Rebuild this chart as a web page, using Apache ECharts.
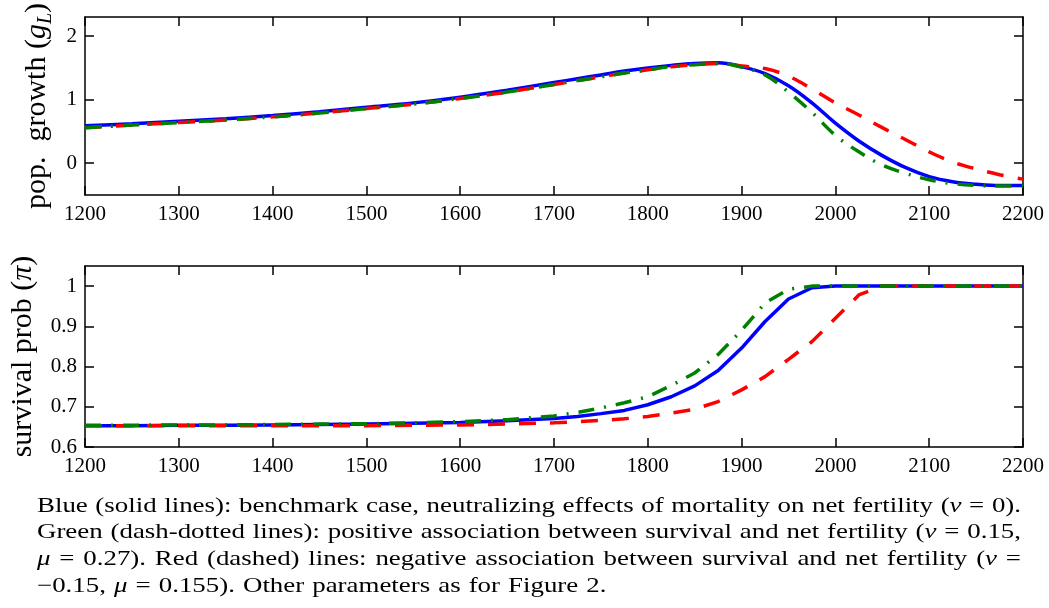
<!DOCTYPE html>
<html>
<head>
<meta charset="utf-8">
<script src="https://cdn.jsdelivr.net/npm/echarts@6/dist/echarts.min.js"></script>
<style>
  html, body { margin: 0; padding: 0; background: #fff; }
  #chart { width: 1049px; height: 608px; }
</style>
</head>
<body>
<div id="chart"></div>
<script>
// years sampled along both panels
const years = [1200, 1250, 1300, 1350, 1400, 1450, 1500, 1550, 1600, 1650, 1700, 1725, 1750, 1775,
  1800, 1825, 1850, 1875, 1900, 1925, 1950, 1975, 2000, 2025, 2050, 2075, 2100, 2125, 2150, 2175, 2200];

// population growth (g_L)
const growthBlue = [0.59, 0.62, 0.66, 0.70, 0.75, 0.81, 0.88, 0.95, 1.04, 1.15, 1.27, 1.33, 1.39, 1.45,
  1.50, 1.54, 1.57, 1.58, 1.52, 1.41, 1.22, 0.95, 0.63, 0.35, 0.12, -0.07, -0.21, -0.29, -0.33, -0.35, -0.35];
const growthGreen = [0.56, 0.60, 0.64, 0.68, 0.73, 0.79, 0.86, 0.93, 1.02, 1.12, 1.24, 1.30, 1.36, 1.42,
  1.47, 1.52, 1.55, 1.57, 1.51, 1.39, 1.12, 0.80, 0.44, 0.18, -0.03, -0.16, -0.26, -0.32, -0.35, -0.36, -0.36];
const growthRed = [0.56, 0.60, 0.64, 0.68, 0.73, 0.79, 0.86, 0.93, 1.02, 1.12, 1.24, 1.30, 1.36, 1.42,
  1.47, 1.52, 1.55, 1.57, 1.53, 1.49, 1.37, 1.17, 0.95, 0.76, 0.56, 0.37, 0.18, 0.02, -0.09, -0.18, -0.25];

// survival probability (pi)
const survBlue = [0.653, 0.653, 0.654, 0.654, 0.655, 0.656, 0.657, 0.659, 0.661, 0.665, 0.671, 0.676, 0.683, 0.691,
  0.705, 0.725, 0.752, 0.790, 0.846, 0.912, 0.968, 0.996, 1, 1, 1, 1, 1, 1, 1, 1, 1];
const survGreen = [0.654, 0.654, 0.655, 0.655, 0.656, 0.657, 0.658, 0.660, 0.663, 0.668, 0.677, 0.686, 0.697, 0.710,
  0.725, 0.753, 0.784, 0.830, 0.890, 0.958, 0.992, 1, 1, 1, 1, 1, 1, 1, 1, 1, 1];
const survRed = [0.653, 0.653, 0.653, 0.653, 0.653, 0.653, 0.653, 0.654, 0.655, 0.657, 0.660, 0.663, 0.666, 0.670,
  0.676, 0.684, 0.694, 0.713, 0.742, 0.775, 0.818, 0.862, 0.920, 0.978, 1, 1, 1, 1, 1, 1, 1];

const growthTicks = [0, 1, 2];
const survTicks = [0.6, 0.7, 0.8, 0.9, 1];

const captionLines = [
  'Blue (solid lines): benchmark case, neutralizing effects of mortality on net fertility (ν = 0).',
  'Green (dash-dotted lines): positive association between survival and net fertility (ν = 0.15,',
  'μ = 0.27). Red (dashed) lines: negative association between survival and net fertility (ν =',
  '−0.15, μ = 0.155). Other parameters as for Figure 2.'
];

const serif = '"Liberation Serif", "Times New Roman", serif';
const black = { color: '#000', width: 1.5 };

function xAxisFor(gridIndex, position, withLabels) {
  return {
    type: 'value',
    gridIndex,
    position,
    min: 1200,
    max: 2200,
    interval: 100,
    axisLine: { show: true, onZero: false, lineStyle: black },
    axisTick: { show: true, inside: true, length: 9, lineStyle: black },
    axisLabel: {
      show: withLabels,
      fontFamily: serif,
      fontSize: 21,
      color: '#000',
      margin: 9,
      formatter: v => String(v)
    },
    splitLine: { show: false }
  };
}

function yAxisFor(gridIndex, position, min, max, ticks, name) {
  const axis = {
    type: 'value',
    gridIndex,
    position,
    min,
    max,
    axisLine: { show: true, onZero: false, lineStyle: black },
    axisTick: { show: true, inside: true, length: 9, lineStyle: black, customValues: ticks },
    axisLabel: {
      show: position === 'left',
      customValues: ticks,
      fontFamily: serif,
      fontSize: 21,
      color: '#000',
      margin: 8,
      formatter: v => String(+v.toFixed(2))
    },
    splitLine: { show: false }
  };
  if (name) {
    axis.name = name.text;
    axis.nameLocation = 'middle';
    axis.nameRotate = 90;
    axis.nameGap = name.gap;
    axis.nameTextStyle = {
      rich: {
        r: { fontFamily: serif, fontSize: 30, color: '#000', lineHeight: 36, verticalAlign: 'middle' },
        i: { fontFamily: serif, fontSize: 30, fontStyle: 'italic', color: '#000', lineHeight: 36, verticalAlign: 'middle' },
        s: { fontFamily: serif, fontSize: 20, fontStyle: 'italic', color: '#000', lineHeight: 20, verticalAlign: 'bottom' }
      }
    };
  }
  return axis;
}

function lineSeries(xi, yi, values, color, dash, z) {
  return {
    type: 'line',
    xAxisIndex: xi,
    yAxisIndex: yi,
    data: years.map((yr, i) => [yr, values[i]]),
    symbol: 'none',
    smooth: xi === 0 ? 0.4 : false,
    lineStyle: { color, width: 3.5, type: dash, cap: 'butt' },
    z
  };
}

// caption: justified lines, greek letters italic, glyphs widened like the source typesetting
const measureCtx = document.createElement('canvas').getContext('2d');
const capSize = 21;
const capStretch = 1.28;
const fontR = capSize + 'px "Liberation Serif"';
const fontI = 'italic ' + capSize + 'px "Liberation Serif"';

function runsOf(word) {
  return word.split(/([νμ])/).filter(t => t.length).map(t => ({ t, italic: /^[νμ]$/.test(t) }));
}
function runWidth(r) {
  measureCtx.font = r.italic ? fontI : fontR;
  return measureCtx.measureText(r.t).width * capStretch;
}

function buildCaption() {
  const els = [];
  const left = 37, right = 1021;
  captionLines.forEach((line, li) => {
    const words = line.split(' ');
    const widths = words.map(w => runsOf(w).reduce((s, r) => s + runWidth(r), 0));
    const total = widths.reduce((a, b) => a + b, 0);
    measureCtx.font = fontR;
    const justify = li < captionLines.length - 1;
    const space = justify ? (right - left - total) / (words.length - 1) : measureCtx.measureText(' ').width * capStretch * 1.2;
    const y = 506 + li * 26.7;
    let x = left;
    words.forEach((w, wi) => {
      let rx = x;
      runsOf(w).forEach(r => {
        els.push({
          type: 'text',
          x: rx,
          y,
          scaleX: capStretch,
          style: {
            text: r.t,
            font: r.italic ? fontI : fontR,
            fill: '#000',
            align: 'left',
            verticalAlign: 'middle'
          }
        });
        rx += runWidth(r);
      });
      x += widths[wi] + space;
    });
  });
  return els;
}

const chart = echarts.init(document.getElementById('chart'), null, { renderer: 'canvas' });

chart.setOption({
  animation: false,
  backgroundColor: '#fff',
  grid: [
    { left: 85, right: 26, top: 15, height: 180 },
    { left: 85, right: 26, top: 266, height: 181 }
  ],
  xAxis: [
    xAxisFor(0, 'bottom', true),
    xAxisFor(0, 'top', false),
    xAxisFor(1, 'bottom', true),
    xAxisFor(1, 'top', false)
  ],
  yAxis: [
    yAxisFor(0, 'left', -0.5, 2.3, growthTicks, { text: '{r|pop.  growth (}{i|g}{s|L}{r|)}', gap: 23 }),
    yAxisFor(0, 'right', -0.5, 2.3, growthTicks),
    yAxisFor(1, 'left', 0.6, 1.05, survTicks, { text: '{r|survival prob (}{i|π}{r|)}', gap: 44 }),
    yAxisFor(1, 'right', 0.6, 1.05, survTicks)
  ],
  series: [
    lineSeries(0, 0, growthBlue, '#0000ff', 'solid', 2),
    lineSeries(0, 0, growthRed, '#ff0000', [17, 14], 3),
    lineSeries(0, 0, growthGreen, '#008000', [16, 10, 2, 10], 4),
    lineSeries(2, 2, survBlue, '#0000ff', 'solid', 2),
    lineSeries(2, 2, survRed, '#ff0000', [17, 14], 3),
    lineSeries(2, 2, survGreen, '#008000', [16, 10, 2, 10], 4)
  ],
  graphic: buildCaption()
});
</script>
</body>
</html>
